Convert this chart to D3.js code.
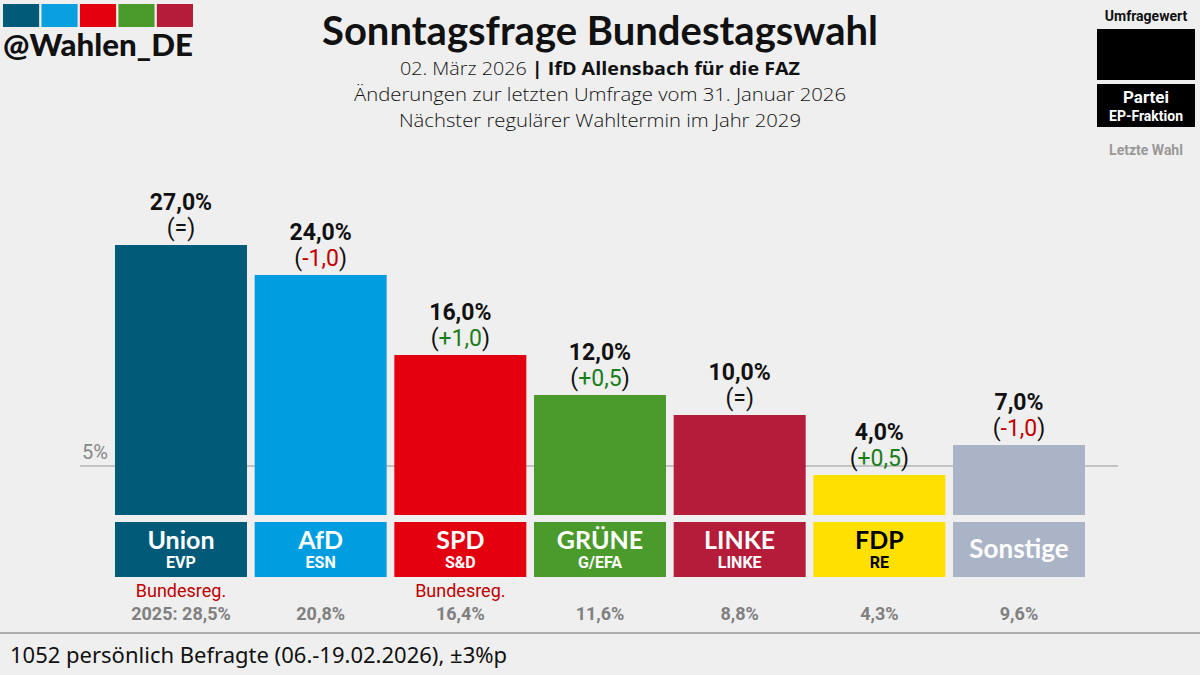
<!DOCTYPE html>
<html><head><meta charset="utf-8">
<script src="https://cdn.jsdelivr.net/npm/d3@7"></script>
<style>html,body{margin:0;padding:0;background:#efefef;}svg{display:block;}</style>
</head><body>
<svg id="c" width="1200" height="675"></svg>
<script>
const parties = ["Union","AfD","SPD","GRÜNE","LINKE","FDP","Sonstige"];
const fraktionen = ["EVP","ESN","S&D","G/EFA","LINKE","RE",""];
const values = [27.0, 24.0, 16.0, 12.0, 10.0, 4.0, 7.0];
const changes = ["=", "-1,0", "+1,0", "+0,5", "=", "+0,5", "-1,0"];
const lastElection = ["2025: 28,5%","20,8%","16,4%","11,6%","8,8%","4,3%","9,6%"];
const government = ["Bundesreg.","","Bundesreg.","","","",""];
const colors = ["#005a78","#009ee0","#e3000f","#4b9b2c","#b41c3a","#ffe000","#aab4c6"];
const nameColors = ["#fff","#fff","#fff","#fff","#fff","#000","#fff"];
const thresholdTick = [5];
const logoColors = ["#005a78","#0aa0e0","#e3000f","#4b9b2c","#b41c3a"];

const svg = d3.select("#c");
const x = d3.scaleBand().domain(parties).range([115,1085]).paddingInner(0.055).paddingOuter(0);
const y = d3.scaleLinear().domain([0,30]).range([515,215]);

svg.append("rect").attr("width",1200).attr("height",675).attr("fill","#efefef");

// logo
const lx = d3.scaleBand().domain(d3.range(logoColors.length)).range([3,193]).paddingInner(0.06);
svg.selectAll(".logo").data(logoColors).join("rect")
  .attr("x",(d,i)=>lx(i)).attr("y",4).attr("width",lx.bandwidth()).attr("height",23).attr("fill",d=>d);
svg.append("text").attr("x",3).attr("y",56).text("@Wahlen_DE")
  .attr("font-family","Lato").attr("font-weight","900").attr("font-size",30).attr("fill","#111")
  .attr("textLength",190).attr("lengthAdjust","spacingAndGlyphs");

// title
svg.append("text").attr("x",600).attr("y",45).attr("text-anchor","middle").text("Sonntagsfrage Bundestagswahl")
  .attr("font-family","Lato").attr("font-weight","700").attr("font-size",40).attr("fill","#111");
const sub1 = svg.append("text").attr("x",600).attr("y",75).attr("text-anchor","middle")
  .attr("font-family","Open Sans").attr("font-size",18.5).attr("fill","#111")
  .attr("textLength",400).attr("lengthAdjust","spacingAndGlyphs");
sub1.append("tspan").attr("font-weight","300").text("02. März 2026 ");
sub1.append("tspan").attr("font-weight","700").text("| IfD Allensbach für die FAZ");
svg.append("text").attr("x",600).attr("y",101).attr("text-anchor","middle").text("Änderungen zur letzten Umfrage vom 31. Januar 2026")
  .attr("font-family","Open Sans").attr("font-weight","300").attr("font-size",18.5).attr("fill","#111")
  .attr("textLength",492).attr("lengthAdjust","spacingAndGlyphs");
svg.append("text").attr("x",600).attr("y",127).attr("text-anchor","middle").text("Nächster regulärer Wahltermin im Jahr 2029")
  .attr("font-family","Open Sans").attr("font-weight","300").attr("font-size",18.5).attr("fill","#111")
  .attr("textLength",402).attr("lengthAdjust","spacingAndGlyphs");

// legend
svg.append("text").attr("x",1146).attr("y",21).attr("text-anchor","middle").text("Umfragewert")
  .attr("font-family","Roboto").attr("font-weight","700").attr("font-size",14).attr("fill","#111");
svg.append("rect").attr("x",1097).attr("y",29).attr("width",98).attr("height",51).attr("fill","#000");
svg.append("rect").attr("x",1097).attr("y",84).attr("width",98).attr("height",43).attr("fill","#000");
svg.append("text").attr("x",1146).attr("y",103).attr("text-anchor","middle").text("Partei")
  .attr("font-family","Roboto").attr("font-weight","700").attr("font-size",17).attr("fill","#fff");
svg.append("text").attr("x",1146).attr("y",121).attr("text-anchor","middle").text("EP-Fraktion")
  .attr("font-family","Roboto").attr("font-weight","700").attr("font-size",14).attr("fill","#fff");
svg.append("text").attr("x",1146).attr("y",155).attr("text-anchor","middle").text("Letzte Wahl")
  .attr("font-family","Roboto").attr("font-weight","700").attr("font-size",14).attr("fill","#999");

// 5% line
svg.selectAll(".thr").data(thresholdTick).join("line")
  .attr("x1",80).attr("x2",1118).attr("y1",d=>y(d)+1).attr("y2",d=>y(d)+1)
  .attr("stroke","#b4b4b4").attr("stroke-width",1.5);
svg.selectAll(".thrl").data(thresholdTick).join("text")
  .attr("x",82).attr("y",d=>y(d)-6).text(d=>d+"%")
  .attr("font-family","Roboto").attr("font-size",20).attr("fill","#888");

// bars
svg.selectAll(".bar").data(values).join("rect")
  .attr("x",(d,i)=>x(parties[i])).attr("y",d=>y(d)).attr("width",x.bandwidth())
  .attr("height",d=>y(0)-y(d)).attr("fill",(d,i)=>colors[i]);

// value labels
svg.selectAll(".val").data(values).join("text")
  .attr("x",(d,i)=>x(parties[i])+x.bandwidth()/2).attr("y",d=>y(d)-35).attr("text-anchor","middle")
  .text(d=>d.toFixed(1).replace(".",",")+"%")
  .attr("font-family","Roboto").attr("font-weight","700").attr("font-size",23).attr("fill","#111");
const ch = svg.selectAll(".chg").data(values).join("text")
  .attr("x",(d,i)=>x(parties[i])+x.bandwidth()/2).attr("y",d=>y(d)-9).attr("text-anchor","middle")
  .attr("font-family","Roboto").attr("font-size",23).attr("fill","#111");
ch.each(function(d,i){
  const t=d3.select(this); const c=changes[i];
  t.append("tspan").text("(");
  t.append("tspan").text(c).attr("fill", c.startsWith("-")?"#c00000":(c.startsWith("+")?"#1a7d1a":"#111"));
  t.append("tspan").text(")");
});

// name boxes
svg.selectAll(".nb").data(parties).join("rect")
  .attr("x",d=>x(d)).attr("y",522).attr("width",x.bandwidth()).attr("height",55).attr("fill",(d,i)=>colors[i]);
svg.selectAll(".nm").data(parties).join("text")
  .attr("x",d=>x(d)+x.bandwidth()/2).attr("y",(d,i)=>fraktionen[i]?549:558).attr("text-anchor","middle")
  .text(d=>d).attr("font-family","Lato").attr("font-weight","700").attr("font-size",(d,i)=>fraktionen[i]?25:26)
  .attr("fill",(d,i)=>nameColors[i]);
svg.selectAll(".fr").data(parties).join("text")
  .attr("x",d=>x(d)+x.bandwidth()/2).attr("y",568).attr("text-anchor","middle")
  .text((d,i)=>fraktionen[i]).attr("font-family","Roboto").attr("font-weight","700").attr("font-size",16)
  .attr("fill",(d,i)=>nameColors[i]);

// government & last election
svg.selectAll(".gov").data(parties).join("text")
  .attr("x",d=>x(d)+x.bandwidth()/2).attr("y",597).attr("text-anchor","middle")
  .text((d,i)=>government[i]).attr("font-family","Roboto").attr("font-size",18).attr("fill","#c00000");
svg.selectAll(".le").data(parties).join("text")
  .attr("x",d=>x(d)+x.bandwidth()/2).attr("y",620).attr("text-anchor","middle")
  .text((d,i)=>lastElection[i]).attr("font-family","Roboto").attr("font-weight","700").attr("font-size",18).attr("fill","#808080");

// footer
svg.append("line").attr("x1",0).attr("x2",1200).attr("y1",633).attr("y2",633).attr("stroke","#999").attr("stroke-width",1.5);
svg.append("text").attr("x",10).attr("y",663).text("1052 persönlich Befragte (06.-19.02.2026), ±3%p")
  .attr("font-family","Noto Sans").attr("font-size",22).attr("fill","#111");
</script>
</body></html>
